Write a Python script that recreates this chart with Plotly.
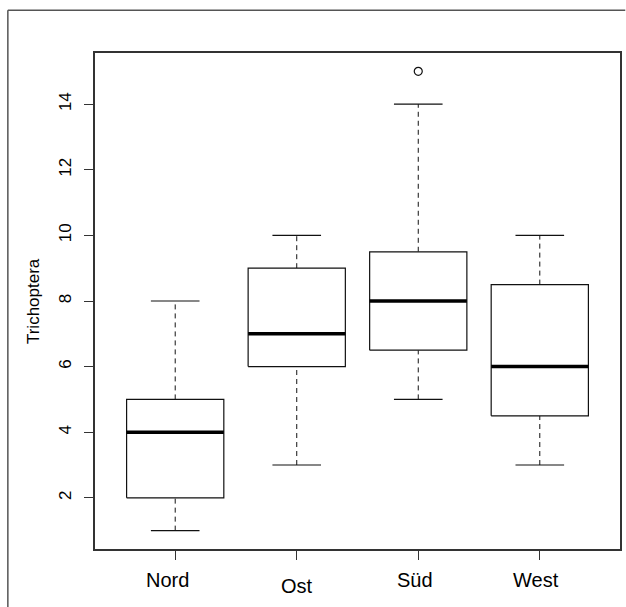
import plotly.graph_objects as go

categories = ["Nord", "Ost", "Süd", "West"]
lower_whisker = [1, 3, 5, 3]
q1 = [2, 6, 6.5, 4.5]
median = [4, 7, 8, 6]
q3 = [5, 9, 9.5, 8.5]
upper_whisker = [8, 10, 14, 10]
outlier_cat = ["Süd"]
outlier_val = [15]
y_ticks = [2, 4, 6, 8, 10, 12, 14]
y_title = "Trichoptera"

FONT = "Liberation Sans, Arial, sans-serif"
half_box = 0.4
half_cap = 0.2
pos = {c: i + 1 for i, c in enumerate(categories)}
label_xshift = {"Nord": -8, "Ost": 0, "Süd": -3, "West": -4}
label_yshift = {"Nord": -31, "Ost": -37, "Süd": -31, "West": -31}

fig = go.Figure()
line_col = "#111111"
for i, c in enumerate(categories):
    x = pos[c]
    fig.add_trace(go.Scatter(x=[x, x], y=[q3[i], upper_whisker[i]], mode="lines",
                             line=dict(color=line_col, width=1, dash="5px,4px"),
                             showlegend=False, hoverinfo="skip"))
    fig.add_trace(go.Scatter(x=[x, x], y=[lower_whisker[i], q1[i]], mode="lines",
                             line=dict(color=line_col, width=1, dash="5px,4px"),
                             showlegend=False, hoverinfo="skip"))
    for v in (upper_whisker[i], lower_whisker[i]):
        fig.add_trace(go.Scatter(x=[x - half_cap, x + half_cap], y=[v, v], mode="lines",
                                 line=dict(color=line_col, width=1.2),
                                 showlegend=False, hoverinfo="skip"))
    fig.add_trace(go.Scatter(x=[x - half_box, x + half_box, x + half_box, x - half_box, x - half_box],
                             y=[q1[i], q1[i], q3[i], q3[i], q1[i]], mode="lines",
                             fill="toself", fillcolor="white",
                             line=dict(color=line_col, width=1.2),
                             showlegend=False, hoverinfo="skip"))
    fig.add_trace(go.Scatter(x=[x - half_box, x + half_box], y=[median[i], median[i]], mode="lines",
                             line=dict(color="black", width=3.5),
                             showlegend=False, hoverinfo="skip"))

fig.add_trace(go.Scatter(x=[pos[c] for c in outlier_cat], y=outlier_val, mode="markers",
                         marker=dict(symbol="circle-open", size=8, color=line_col, line=dict(width=1.2)),
                         showlegend=False, hoverinfo="skip"))

for c in categories:
    fig.add_annotation(x=pos[c], y=0, xref="x", yref="paper", text=c, showarrow=False,
                       yanchor="middle", xanchor="center",
                       xshift=label_xshift[c], yshift=label_yshift[c],
                       font=dict(family=FONT, size=20, color="black"))

fig.add_annotation(x=-0.118, y=0.5, xref="paper", yref="paper", text=y_title, showarrow=False,
                   textangle=-90, xanchor="center", yanchor="middle",
                   font=dict(family=FONT, size=17, color="black"))

fig.add_shape(type="line", xref="paper", yref="paper", x0=-0.166, x1=-0.166, y0=-0.12, y1=1.086,
              line=dict(color="#555555", width=1.5))
fig.add_shape(type="line", xref="paper", yref="paper", x0=-0.166, x1=1.01, y0=1.086, y1=1.086,
              line=dict(color="#555555", width=1.5))

fig.update_xaxes(range=[0.34, 4.66], tickvals=[pos[c] for c in categories], showticklabels=False,
                 ticks="outside", ticklen=9, tickcolor="#333333", tickwidth=1,
                 showline=True, linecolor="#333333", linewidth=1.5, mirror=True,
                 showgrid=False, zeroline=False)
fig.update_yaxes(range=[0.44, 15.56], tickvals=y_ticks, ticktext=[str(v) for v in y_ticks],
                 tickangle=-90, ticks="outside", ticklen=9, tickcolor="#333333", tickwidth=1,
                 ticklabelstandoff=6,
                 tickfont=dict(family=FONT, size=17, color="black"),
                 showline=True, linecolor="#333333", linewidth=1.5, mirror=True,
                 showgrid=False, zeroline=False)

fig.update_layout(width=626, height=607, margin=dict(l=95, r=4, t=53, b=58),
                  plot_bgcolor="white", paper_bgcolor="white", showlegend=False)

fig.write_html("out.html")
